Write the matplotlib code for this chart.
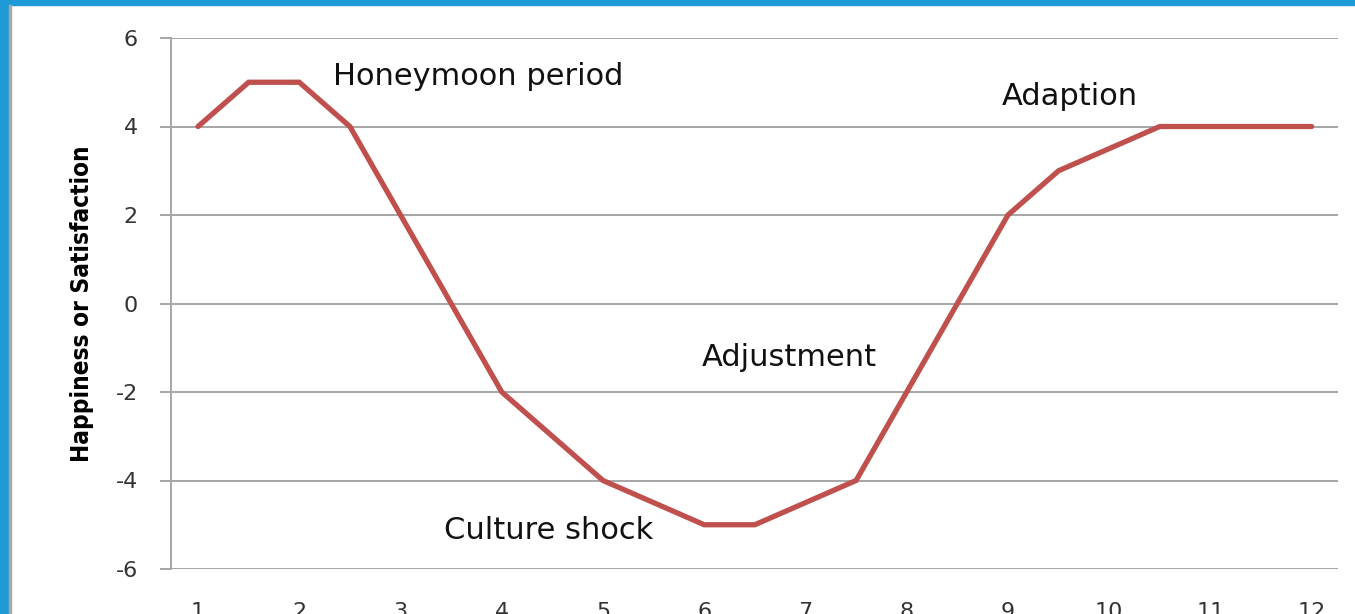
import matplotlib
matplotlib.use("Agg")
import matplotlib.pyplot as plt
from matplotlib.patches import Rectangle

# culture shock curve at half steps
months = [1, 1.5, 2, 2.5, 3, 3.5, 4, 4.5, 5, 5.5, 6, 6.5, 7, 7.5, 8, 8.5, 9, 9.5, 10, 10.5, 11, 11.5, 12]
happiness = [4, 5, 5, 4, 2, 0, -2, -3, -4, -4.5, -5, -5, -4.5, -4, -2, 0, 2, 3, 3.5, 4, 4, 4, 4]

x_ticks = list(range(1, 13))
y_ticks = [-6, -4, -2, 0, 2, 4, 6]

labels = ["Honeymoon period", "Culture shock", "Adjustment", "Adaption"]
label_x = [2.33, 3.43, 5.98, 8.94]
label_y = [5.14, -5.14, -1.21, 4.67]

W, H = 1355, 614
fig = plt.figure(figsize=(W / 100, H / 100), dpi=100)
fig.patch.set_facecolor("white")

# blue frame of the slide
fig.patches.append(Rectangle((0, 1 - 5 / H), 1, 5 / H, transform=fig.transFigure,
                             color="#1E9BD7", zorder=0))
fig.patches.append(Rectangle((0, 0), 9 / W, 1, transform=fig.transFigure,
                             color="#1E9BD7", zorder=0))
fig.patches.append(Rectangle((9 / W, 0), 2 / W, 1 - 5 / H, transform=fig.transFigure,
                             color="#A8A8A8", zorder=0))

ax = fig.add_axes([171 / W, 1 - 569 / H, (1338 - 171) / W, (569 - 38) / H])

ax.plot(months, happiness, color="#C0504D", lw=3.8, solid_joinstyle="miter",
        solid_capstyle="round", zorder=3)

ax.set_xlim(0.733, 12.26)
ax.set_ylim(-6, 6)
ax.set_yticks(y_ticks)
ax.set_yticklabels([str(v) for v in y_ticks])
ax.set_xticks(x_ticks)
ax.set_xticklabels([str(v) for v in x_ticks])

ax.yaxis.grid(True, color="#A6A6A6", lw=1.4)
ax.set_axisbelow(True)
for side in ["top", "right", "bottom"]:
    ax.spines[side].set_visible(False)
ax.spines["left"].set_color("#A6A6A6")
ax.spines["left"].set_linewidth(1.4)

ax.tick_params(axis="y", length=8, width=1.4, color="#A6A6A6", pad=16,
               labelsize=16, labelcolor="#333333")
ax.tick_params(axis="x", length=0, pad=24, labelsize=16, labelcolor="#333333")
for t in ax.get_xticklabels() + ax.get_yticklabels():
    t.set_fontfamily("DejaVu Sans")

ax.set_ylabel("Happiness or Satisfaction", fontsize=17.5, fontweight="bold",
              fontstretch="condensed", family="DejaVu Sans")
ax.yaxis.set_label_coords(-(171 - 94) / (1338 - 171), 0.5)

for txt, lx, ly in zip(labels, label_x, label_y):
    ax.text(lx, ly, txt, fontsize=22, family="DejaVu Sans", color="#111111",
            ha="left", va="center")

fig.savefig("out.png", dpi=100)
